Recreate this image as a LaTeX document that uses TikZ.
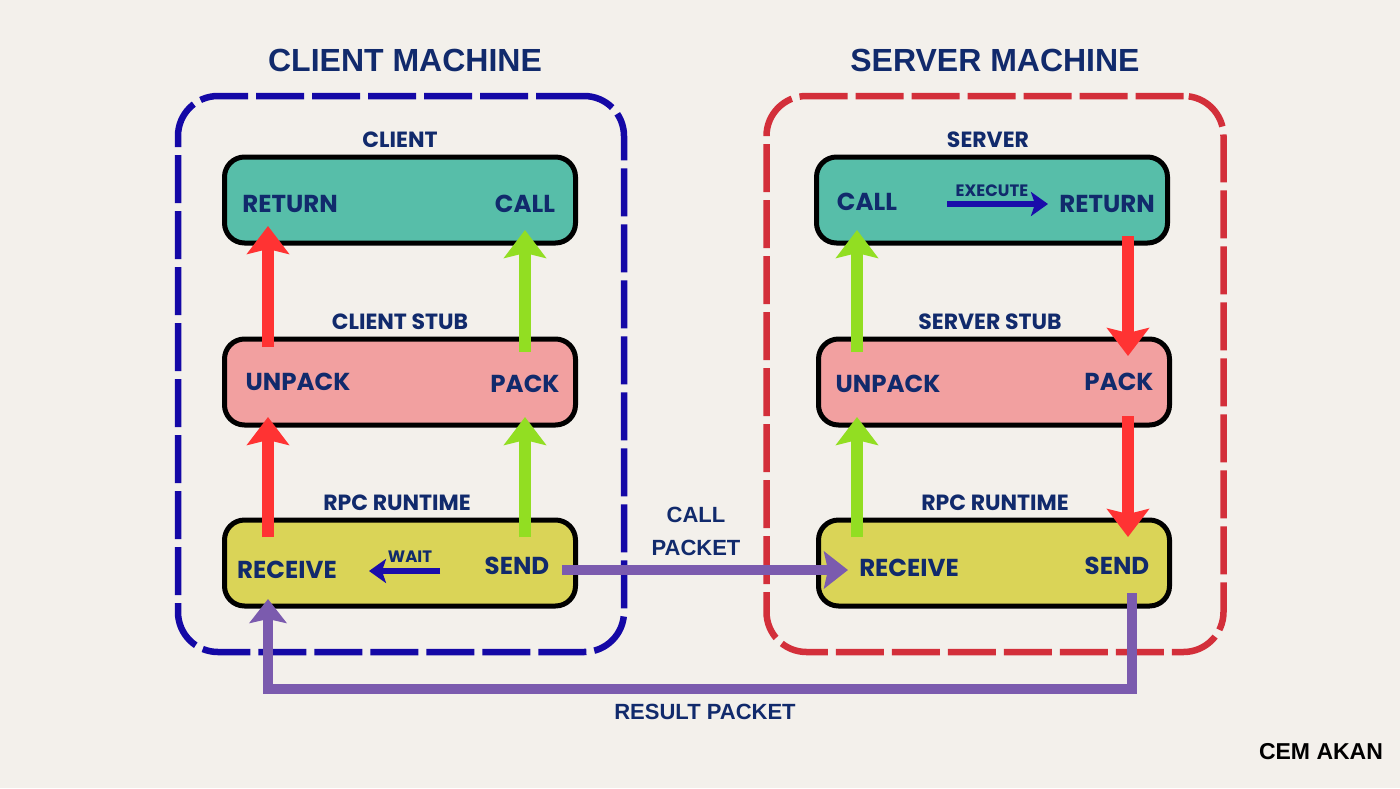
\documentclass[tikz,border=0pt]{standalone}
\usepackage{fontspec}
\setmainfont{Poppins}
\newfontfamily\arialfont{Liberation Sans}
\usetikzlibrary{arrows.meta}
\definecolor{bg}{HTML}{F3F0EB}
\definecolor{navy}{HTML}{112A6C}
\definecolor{cblue}{HTML}{1408A6}
\definecolor{sred}{HTML}{D32F3A}
\definecolor{teal}{HTML}{57BEA9}
\definecolor{pinkbox}{HTML}{F2A0A0}
\definecolor{yellowbox}{HTML}{DAD457}
\definecolor{redA}{HTML}{FF3333}
\definecolor{greenA}{HTML}{92DE22}
\definecolor{purpleA}{HTML}{7B5BAE}
\definecolor{smallA}{HTML}{1A0DAA}
\begin{document}
\begin{tikzpicture}[x=1pt,y=-1pt,
  machine/.style={rectangle, line width=6.5pt, dash pattern=on 48pt off 8pt, rounded corners=40pt, minimum width=446pt, minimum height=556pt},
  box/.style={rectangle, draw=black, line width=5pt, rounded corners=20pt, minimum width=351pt, minimum height=86pt},
  title/.style={text=navy, font=\arialfont\bfseries\fontsize{32}{34}\selectfont},
  lbl/.style={text=navy, font=\bfseries\fontsize{22}{24}\selectfont},
  mid/.style={text=navy, font=\arialfont\bfseries\fontsize{22}{33}\selectfont},
  txt/.style={text=navy, font=\bfseries\fontsize{24.5}{26}\selectfont},
  small/.style={text=navy, font=\bfseries\fontsize{16.5}{18}\selectfont},
  bigarrow/.style={line width=12pt, -{Stealth[width=42pt,length=28pt,inset=5pt]}},
  parrow/.style={draw=purpleA, line width=10pt, -{Stealth[width=37pt,length=24pt,inset=4pt]}},
  sarrow/.style={draw=smallA, line width=6pt, -{Stealth[width=24pt,length=17pt,inset=4pt]}}
]
\fill[bg] (0,0) rectangle (1400,788);
\useasboundingbox (0,0) rectangle (1400,788);

% machines
\node[machine, draw=cblue] (cm) at (401,374) {};
\node[machine, draw=sred, minimum width=457pt] (sm) at (995,374) {};
\node[title] (cmt) at (405,60) {CLIENT MACHINE};
\node[title] (smt) at (995,60) {SERVER MACHINE};

% client boxes
\node[box, fill=teal] (cb1) at (400,200) {};
\node[box, fill=pinkbox] (cb2) at (400,382) {};
\node[box, fill=yellowbox] (cb3) at (400,563) {};
\node[lbl] (cl1) at (400,140) {CLIENT};
\node[lbl] (cl2) at (400,322) {CLIENT STUB};
\node[lbl] (cl3) at (397,503) {RPC RUNTIME};

% server boxes
\node[box, fill=teal] (sb1) at (992,200) {};
\node[box, fill=pinkbox] (sb2) at (994,382) {};
\node[box, fill=yellowbox] (sb3) at (994,563) {};
\node[lbl] (sl1) at (988,140) {SERVER};
\node[lbl] (sl2) at (990,322) {SERVER STUB};
\node[lbl] (sl3) at (995,503) {RPC RUNTIME};

% client texts
\node[txt] (creturn) at (290,204) {RETURN};
\node[txt] (ccall) at (525,204) {CALL};
\node[txt] (cunpack) at (298,382) {UNPACK};
\node[txt] (cpack) at (525,384) {PACK};
\node[txt] (creceive) at (287,570) {RECEIVE};
\node[txt] (csend) at (517,566) {SEND};
\node[small] (wait) at (410,557) {WAIT};

% server texts
\node[txt] (scall) at (867,202) {CALL};
\node[txt] (sreturn) at (1107,204) {RETURN};
\node[small] (exec) at (992,191) {EXECUTE};
\node[txt] (sunpack) at (888,384) {UNPACK};
\node[txt] (spack) at (1119,382) {PACK};
\node[txt] (sreceive) at (909,568) {RECEIVE};
\node[txt] (ssend) at (1117,566) {SEND};

% middle labels
\node[mid, align=center] (callpk) at (696,531) {CALL\\PACKET};
\node[mid] (respk) at (705,712) {RESULT PACKET};
\node[font=\arialfont\bfseries\fontsize{23}{25}\selectfont, text=black] (author) at (1321,752) {CEM AKAN};

% coordinates
\coordinate (a1s) at (268,347); \coordinate (a1e) at (268,226);
\coordinate (a2s) at (525,352); \coordinate (a2e) at (525,230);
\coordinate (a3s) at (268,537); \coordinate (a3e) at (268,417);
\coordinate (a4s) at (525,537); \coordinate (a4e) at (525,417);
\coordinate (b1s) at (857,352); \coordinate (b1e) at (857,230);
\coordinate (b2s) at (857,537); \coordinate (b2e) at (857,417);
\coordinate (b3s) at (1128,236); \coordinate (b3e) at (1128,356);
\coordinate (b4s) at (1128,416); \coordinate (b4e) at (1128,537);
\coordinate (ws) at (440,571); \coordinate (we) at (369,571);
\coordinate (es) at (947,204); \coordinate (ee) at (1048,204);
\coordinate (ps) at (562,570); \coordinate (pe) at (848,570);
\coordinate (rs) at (1132,593); \coordinate (rm) at (268,689); \coordinate (re) at (268,599);

% client arrows
\draw[bigarrow, redA] (a1s) -- (a1e);
\draw[bigarrow, greenA] (a2s) -- (a2e);
\draw[bigarrow, redA] (a3s) -- (a3e);
\draw[bigarrow, greenA] (a4s) -- (a4e);
% server arrows
\draw[bigarrow, greenA] (b1s) -- (b1e);
\draw[bigarrow, greenA] (b2s) -- (b2e);
\draw[bigarrow, redA] (b3s) -- (b3e);
\draw[bigarrow, redA] (b4s) -- (b4e);
% small arrows
\draw[sarrow] (ws) -- (we);
\draw[sarrow] (es) -- (ee);
% packets
\draw[parrow] (ps) -- (pe);
\draw[parrow] (rs) |- (rm) -- (re);
\end{tikzpicture}
\end{document}
